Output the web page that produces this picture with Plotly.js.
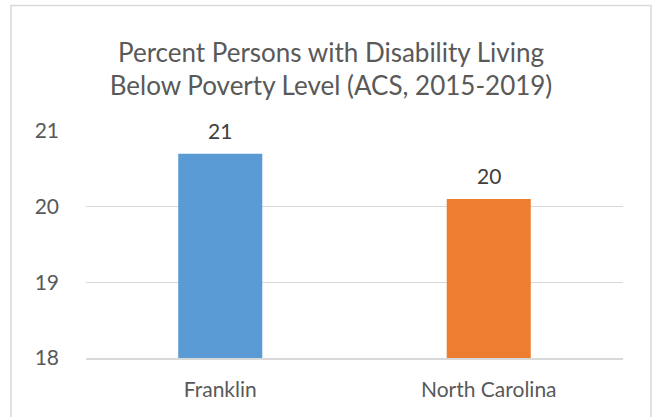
<!DOCTYPE html>
<html>
<head>
<meta charset="utf-8">
<script src="https://cdn.plot.ly/plotly-3.0.1.min.js"></script>
<style>
html,body{margin:0;padding:0;background:#fff;}
#chart{width:652px;height:417px;}
</style>
</head>
<body>
<div id="chart"></div>
<script>
var categories = ["Franklin", "North Carolina"];
var values = [20.7, 20.1];
var valueLabels = ["21", "20"];
var barColors = ["#5B9BD5", "#ED7D31"];
var yTicks = [18, 19, 20, 21];

var FONT = "Lato, 'Open Sans', sans-serif";

var trace = {
  type: "bar",
  x: categories,
  y: values,
  marker: {color: barColors},
  hoverinfo: "none"
};

var annotations = categories.map(function(c, i){
  return {
    x: c, y: values[i], xref: "x", yref: "y",
    text: valueLabels[i], showarrow: false,
    yanchor: "bottom", yshift: 9,
    font: {family: FONT, size: 21, color: "#404040"}
  };
});

var layout = {
  width: 652, height: 417,
  margin: {l: 86, r: 29, t: 131, b: 59},
  paper_bgcolor: "#ffffff",
  plot_bgcolor: "#ffffff",
  showlegend: false,
  bargap: 0.687,
  title: {
    text: "Percent Persons with Disability Living<br>Below Poverty Level (ACS, 2015-2019)",
    font: {family: FONT, size: 26, color: "#595959"},
    xref: "container", x: 0.5077, xanchor: "center",
    yref: "container", y: 1 - 61.5/417, yanchor: "middle"
  },
  xaxis: {
    showgrid: false, zeroline: false,
    showline: true, linecolor: "#d9d9d9", linewidth: 1.5,
    ticks: "",
    tickfont: {family: FONT, size: 21, color: "#595959"},
    ticklabelstandoff: 12
  },
  yaxis: {
    range: [18, 21],
    tickvals: yTicks,
    ticktext: yTicks.map(String),
    showgrid: true, gridcolor: "#d9d9d9", gridwidth: 1.5,
    zeroline: false, showline: false, ticks: "",
    tickfont: {family: FONT, size: 21, color: "#595959"},
    ticklabelstandoff: 26
  },
  annotations: annotations,
  shapes: [{
    type: "rect", xref: "paper", yref: "paper",
    x0: (11 - 86) / 537, x1: (651 - 86) / 537,
    y0: (358 - 425) / 227, y1: (358 - 5.5) / 227,
    line: {color: "#d9d9d9", width: 1.5},
    fillcolor: "rgba(0,0,0,0)", layer: "below"
  }]
};

Plotly.newPlot("chart", [trace], layout, {displayModeBar: false, staticPlot: true});
</script>
</body>
</html>
